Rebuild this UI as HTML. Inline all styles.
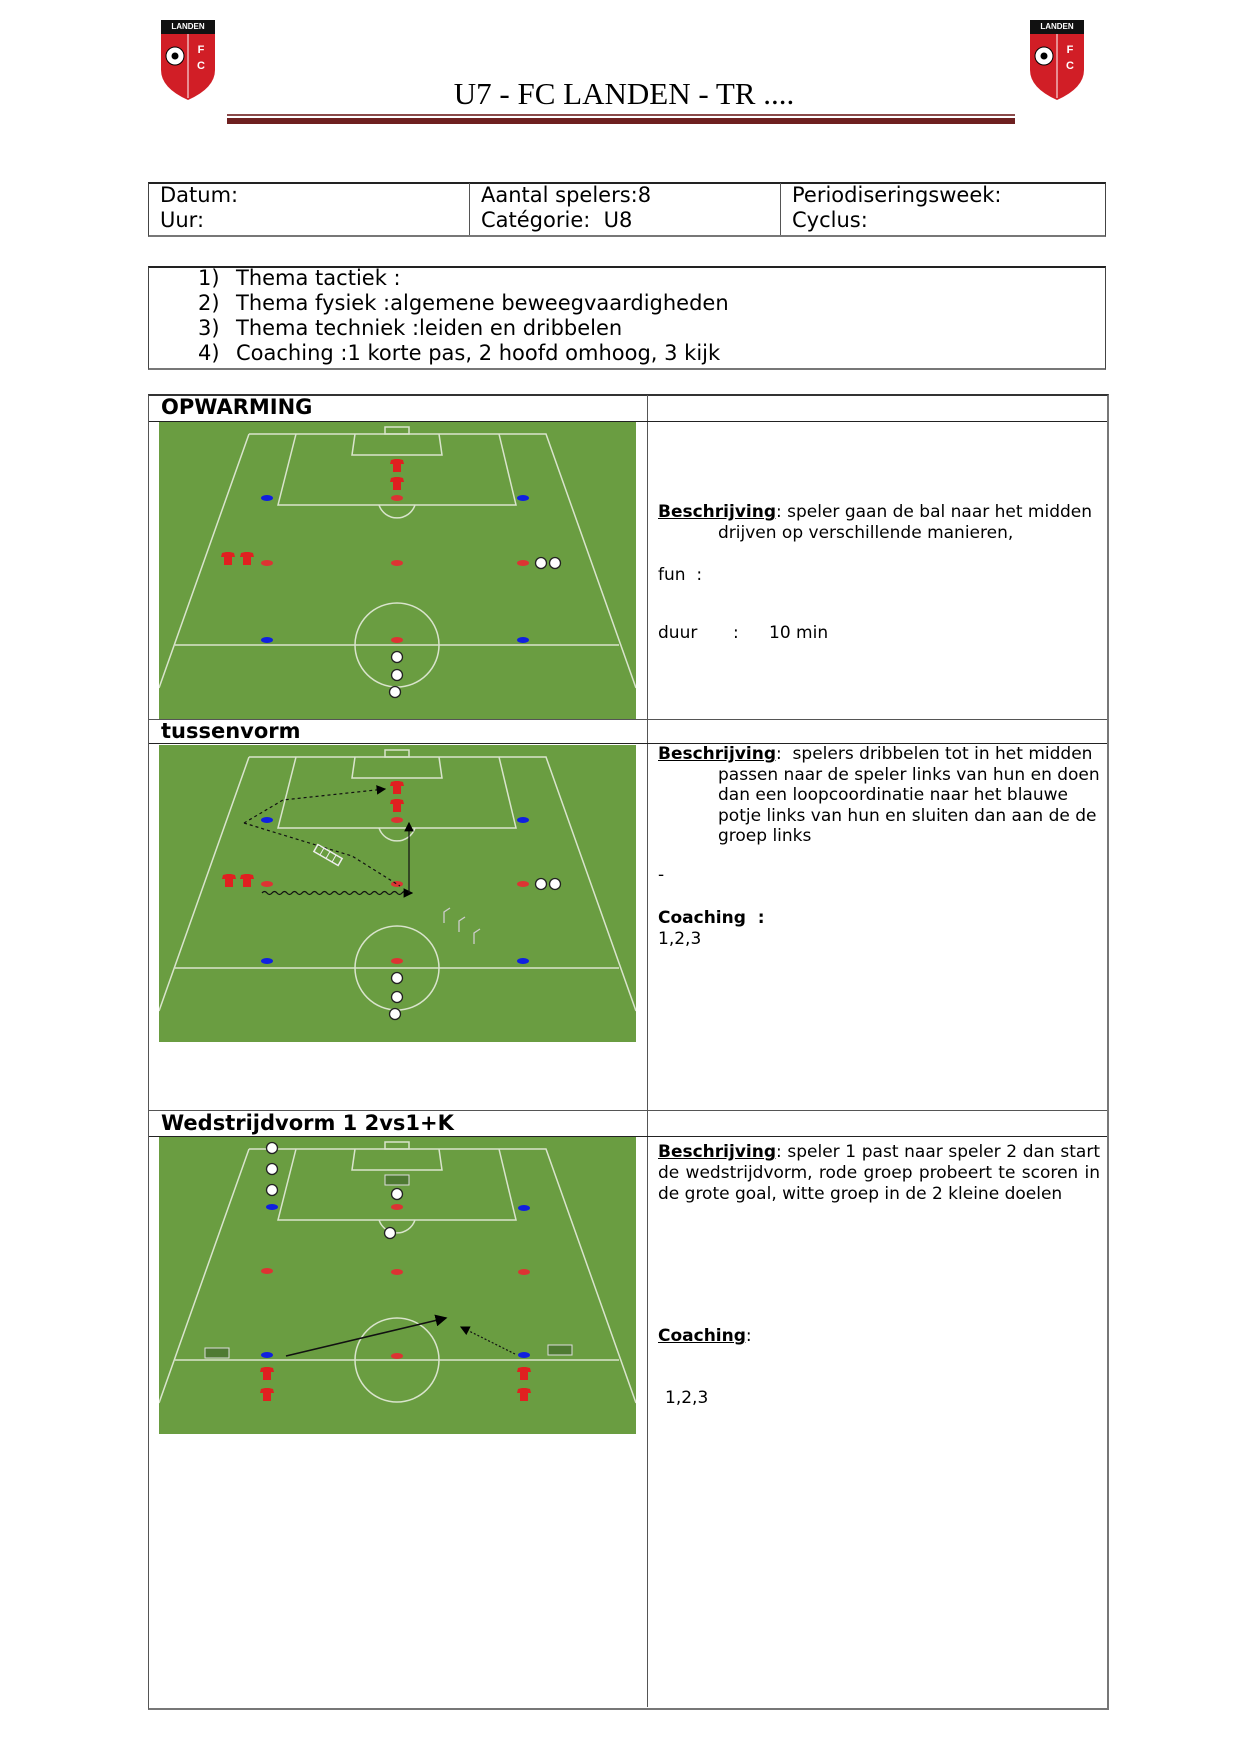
<!DOCTYPE html>
<html><head><meta charset="utf-8"><style>
body{margin:0;background:#fff;}
#p{position:relative;width:1241px;height:1754px;overflow:hidden;font-family:"DejaVu Sans","Liberation Sans",sans-serif;color:#000;}
.a{position:absolute;white-space:nowrap;}
.t{font-size:21px;}
.s{font-size:17px;}
.h{font-size:21px;font-weight:bold;}
.b{position:absolute;background:#555;}
u{text-decoration:underline;}
</style></head><body><div id="p">

<svg class="a" style="left:0;top:0" width="1241" height="1754">
<defs>
<g id="logo">
<path d="M0,0 H54 V50 Q54,68 27,80 Q0,68 0,50 Z" fill="#d11e26"/>
<rect x="0" y="0" width="54" height="14" fill="#111"/>
<text x="27" y="9" font-size="8" font-weight="bold" fill="#fff" text-anchor="middle" font-family="Liberation Sans,sans-serif">LANDEN</text>
<line x1="27" y1="14" x2="27" y2="78" stroke="#fff" stroke-width="1"/>
<circle cx="14" cy="36" r="9" fill="#fff" stroke="#000"/>
<circle cx="14" cy="36" r="3.5" fill="#000"/>
<text x="40" y="33" font-size="11" font-weight="bold" fill="#fff" text-anchor="middle" font-family="Liberation Sans,sans-serif">F</text>
<text x="40" y="49" font-size="11" font-weight="bold" fill="#fff" text-anchor="middle" font-family="Liberation Sans,sans-serif">C</text>
</g>
</defs>
<use href="#logo" x="161" y="20"/>
<use href="#logo" x="1030" y="20"/>
<rect x="227" y="114" width="788" height="2" fill="#8a4a4a"/>
<rect x="227" y="118" width="788" height="6" fill="#6e2020"/>
</svg>
<div class="a" style="left:0;width:1248px;top:76px;text-align:center;font-family:'Liberation Serif',serif;font-size:31px;">U7 - FC LANDEN - TR ....</div>

<!-- table 1 -->
<div class="a" style="left:148px;top:182px;width:956px;height:51px;border:1px solid #444;border-top:2px solid #222;border-bottom:2px solid #777;"></div>
<div class="b" style="left:469px;top:183px;width:1px;height:52px"></div>
<div class="b" style="left:780px;top:183px;width:1px;height:52px"></div>
<div class="a t" style="left:160px;top:183px;line-height:25px">Datum:<br>Uur:</div>
<div class="a t" style="left:481px;top:183px;line-height:25px">Aantal spelers:8<br>Catégorie:&nbsp; U8</div>
<div class="a t" style="left:792px;top:183px;line-height:25px">Periodiseringsweek:<br>Cyclus:</div>

<!-- table 2 -->
<div class="a" style="left:148px;top:266px;width:956px;height:100px;border:1px solid #444;border-top:2px solid #222;border-bottom:2px solid #777;"></div>
<div class="a t" style="left:198px;top:266px;line-height:25px">1)<br>2)<br>3)<br>4)</div>
<div class="a t" style="left:236px;top:266px;line-height:25px">Thema tactiek :<br>Thema fysiek :algemene beweegvaardigheden<br>Thema techniek :leiden en dribbelen<br>Coaching :1 korte pas, 2 hoofd omhoog, 3 kijk</div>

<!-- main table -->
<div class="a" style="left:148px;top:394px;width:958px;height:1312px;border:1px solid #555;border-top:2px solid #333;border-bottom:2px solid #777;border-right:2px solid #777;"></div>
<div class="b" style="left:647px;top:395px;width:1px;height:1312px"></div>
<div class="b" style="left:149px;top:421px;width:958px;height:1px;background:#222"></div>
<div class="b" style="left:149px;top:719px;width:958px;height:1px"></div>
<div class="b" style="left:149px;top:743px;width:958px;height:1px;background:#222"></div>
<div class="b" style="left:149px;top:1110px;width:958px;height:1px"></div>
<div class="b" style="left:149px;top:1136px;width:958px;height:1px;background:#222"></div>

<div class="a h" style="left:161px;top:395px">OPWARMING</div>
<div class="a h" style="left:161px;top:719px">tussenvorm</div>
<div class="a h" style="left:161px;top:1111px">Wedstrijdvorm 1 2vs1+K</div>

<!-- right texts -->
<div class="a s" style="left:658px;top:502px;line-height:21px"><b><u>Beschrijving</u></b>: speler gaan de bal naar het midden<br><span style="padding-left:60px">drijven op verschillende manieren,</span></div>
<div class="a s" style="left:658px;top:565px">fun&nbsp; :</div>
<div class="a s" style="left:658px;top:623px">duur</div>
<div class="a s" style="left:733px;top:623px">:</div>
<div class="a s" style="left:769px;top:623px">10 min</div>

<div class="a s" style="left:658px;top:744px;line-height:20.6px"><b><u>Beschrijving</u></b>:&nbsp; spelers dribbelen tot in het midden<br><span style="padding-left:60px">passen naar de speler links van hun en doen</span><br><span style="padding-left:60px">dan een loopcoordinatie naar het blauwe</span><br><span style="padding-left:60px">potje links van hun en sluiten dan aan de de</span><br><span style="padding-left:60px">groep links</span></div>
<div class="a s" style="left:658px;top:865px">-</div>
<div class="a s" style="left:658px;top:908px;line-height:21px"><b>Coaching&nbsp; :</b><br>1,2,3</div>

<div class="a s" style="left:658px;top:1142px;width:442px;line-height:21px;white-space:normal;text-align:justify"><b><u>Beschrijving</u></b>: speler 1 past naar speler 2 dan start de wedstrijdvorm, rode groep probeert te scoren in de grote goal, witte groep in de 2 kleine doelen</div>
<div class="a s" style="left:658px;top:1326px"><b><u>Coaching</u></b>:</div>
<div class="a s" style="left:665px;top:1388px">1,2,3</div>

<!-- pitches -->
<svg width="0" height="0" style="position:absolute">
<defs>
<g id="field">
<rect width="477" height="297" fill="#6a9d41"/>
<g fill="none" stroke="#d9e4cc" stroke-width="1.5">
<path d="M90,12 H387 L477,266 M90,12 L0,266"/>
<line x1="16" y1="223" x2="460" y2="223"/>
<path d="M137,12 L119,83 H357 L340,12"/>
<path d="M196,12 L193,33 H283 L280,12"/>
<rect x="226" y="5" width="24" height="7"/>
<path d="M220,83 A19,19 0 0 0 256,83"/>
<circle cx="238" cy="223" r="42"/>
</g>
</g>
<g id="rc"><ellipse cx="0" cy="0" rx="6" ry="3" fill="#d33"/></g>
<g id="bc"><ellipse cx="0" cy="0" rx="6" ry="3" fill="#1020e0"/></g>
<g id="sh"><path d="M-6,-6 L-2,-7 H2 L6,-6 L7,-2 L4,-2 V6 H-4 V-2 H-7 Z" fill="#e02020"/></g>
<g id="bl"><circle r="5.5" fill="#fff" stroke="#222" stroke-width="1.3"/></g>
<marker id="ar" markerWidth="8" markerHeight="8" refX="7" refY="4" orient="auto"><path d="M0,0 L8,4 L0,8 Z" fill="#000"/></marker>
</defs>
</svg>

<svg class="a" style="left:159px;top:422px" width="477" height="297">
<use href="#field"/>
<use href="#sh" x="238" y="44"/><use href="#sh" x="238" y="62"/>
<use href="#rc" x="238" y="76"/><use href="#bc" x="108" y="76"/><use href="#bc" x="364" y="76"/>
<use href="#sh" x="69" y="137"/><use href="#sh" x="88" y="137"/>
<use href="#rc" x="108" y="141"/><use href="#rc" x="238" y="141"/><use href="#rc" x="364" y="141"/>
<use href="#bl" x="382" y="141"/><use href="#bl" x="396" y="141"/>
<use href="#bc" x="108" y="218"/><use href="#rc" x="238" y="218"/><use href="#bc" x="364" y="218"/>
<use href="#bl" x="238" y="235"/><use href="#bl" x="238" y="253"/><use href="#bl" x="236" y="270"/>
</svg>

<svg class="a" style="left:159px;top:745px" width="477" height="297">
<use href="#field"/>
<use href="#sh" x="238" y="43"/><use href="#sh" x="238" y="61"/>
<use href="#rc" x="238" y="75"/><use href="#bc" x="108" y="75"/><use href="#bc" x="364" y="75"/>
<use href="#sh" x="70" y="136"/><use href="#sh" x="88" y="136"/>
<use href="#rc" x="108" y="139"/><use href="#rc" x="238" y="139"/><use href="#rc" x="364" y="139"/>
<use href="#bl" x="382" y="139"/><use href="#bl" x="396" y="139"/>
<use href="#bc" x="108" y="216"/><use href="#rc" x="238" y="216"/><use href="#bc" x="364" y="216"/>
<use href="#bl" x="238" y="233"/><use href="#bl" x="238" y="252"/><use href="#bl" x="236" y="269"/>
<g fill="none" stroke="#111" stroke-width="1.2">
<path d="M85,78 L124,55 L226,44" stroke-dasharray="3,3" marker-end="url(#ar)"/>
<path d="M85,78 L193,111 L241,141" stroke-dasharray="3,3"/>
<path d="M103,148 q2.5,-3 5,0 t5,0 t5,0 t5,0 t5,0 t5,0 t5,0 t5,0 t5,0 t5,0 t5,0 t5,0 t5,0 t5,0 t5,0 t5,0 t5,0 t5,0 t5,0 t5,0 t5,0 t5,0 t5,0 t5,0 t5,0 t5,0 t5,0 t5,0 t5,0 L253,148" marker-end="url(#ar)"/>
<path d="M250,148 L250,78" marker-end="url(#ar)"/>
</g>
<g transform="translate(169,110) rotate(30)"><rect x="-14" y="-4" width="28" height="8" fill="none" stroke="#eee" stroke-width="1.5"/><path d="M-7,-4 V4 M0,-4 V4 M7,-4 V4" stroke="#eee"/></g>
<g fill="none" stroke="#ccc" stroke-width="1.3"><path d="M285,178 V167 L291,163"/><path d="M300,187 V176 L306,172"/><path d="M315,199 V188 L321,184"/></g>
</svg>

<svg class="a" style="left:159px;top:1137px" width="477" height="297">
<use href="#field"/>
<use href="#bl" x="113" y="11"/><use href="#bl" x="113" y="32"/><use href="#bl" x="113" y="53"/>
<rect x="226" y="38" width="24" height="10" fill="#4f7a33" stroke="#ddd"/>
<use href="#bl" x="238" y="57"/>
<use href="#rc" x="238" y="70"/><use href="#bc" x="113" y="70"/><use href="#bc" x="365" y="71"/>
<use href="#bl" x="231" y="96"/>
<use href="#rc" x="108" y="134"/><use href="#rc" x="238" y="135"/><use href="#rc" x="365" y="135"/>
<use href="#bc" x="108" y="218"/><use href="#rc" x="238" y="219"/><use href="#bc" x="365" y="218"/>
<rect x="46" y="211" width="24" height="10" fill="#4f7a33" stroke="#ddd"/>
<rect x="389" y="208" width="24" height="10" fill="#4f7a33" stroke="#ddd"/>
<use href="#sh" x="108" y="237"/><use href="#sh" x="108" y="258"/><use href="#sh" x="365" y="237"/><use href="#sh" x="365" y="258"/>
<path d="M127,219 L287,181" stroke="#111" stroke-width="1.5" marker-end="url(#ar)"/>
<path d="M356,217 L302,190" stroke="#111" stroke-width="1.2" stroke-dasharray="2,2" marker-end="url(#ar)"/>
</svg>

</div></body></html>
